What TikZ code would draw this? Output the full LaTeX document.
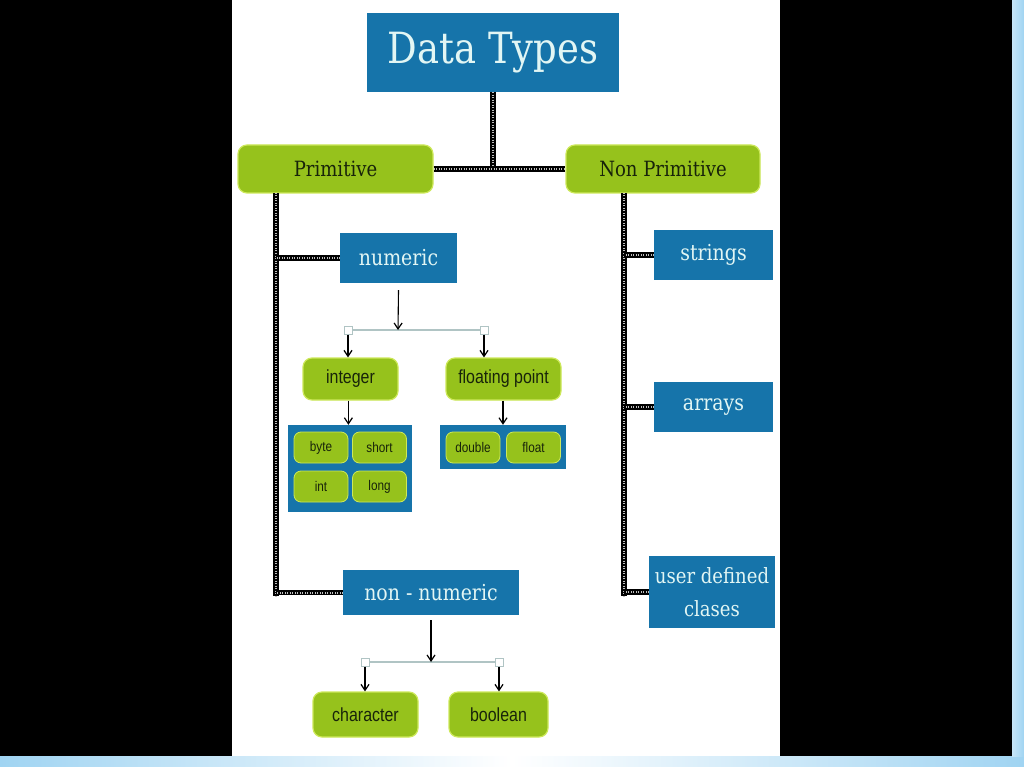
\documentclass[tikz,border=0pt]{standalone}
\usepackage{fontspec}
\usetikzlibrary{arrows.meta}
\newfontfamily\slabfont[FakeStretch=0.86]{DejaVu Serif}
\newfontfamily\narrowfont[FakeStretch=0.84]{Liberation Sans}
\definecolor{boxblue}{RGB}{22,116,170}
\definecolor{boxgreen}{RGB}{150,194,28}
\definecolor{greenedge}{RGB}{205,232,90}
\definecolor{lighttext}{RGB}{226,246,244}
\definecolor{darktext}{RGB}{24,36,10}
\definecolor{framblue}{RGB}{160,212,242}
\definecolor{splitgray}{RGB}{176,196,196}
\tikzset{
  bluebox/.style={draw=none, fill=boxblue, text=lighttext, inner sep=0pt, font=\slabfont},
  greenbox/.style={draw=greenedge, line width=1.2pt, fill=boxgreen, text=darktext, rounded corners=9pt, inner sep=0pt},
  smallgreen/.style={draw=greenedge, line width=0.8pt, fill=boxgreen, text=darktext, rounded corners=7pt, inner sep=0pt, minimum width=54pt, minimum height=31pt, font=\narrowfont\fontsize{14}{16}\selectfont},
  trackbase/.style={line width=5.5pt, black},
  tracktop/.style={line width=2pt, black!25, dash pattern=on 0.7pt off 1.8pt},
  arr/.style={-{Straight Barb[length=6pt,width=8pt,line width=1.2pt]}, line width=1.1pt, black},
  splitline/.style={line width=1.2pt, splitgray},
  sq/.style={draw=splitgray, fill=white, line width=1pt, minimum size=8pt, inner sep=0pt}
}
\newcommand{\track}[2]{\draw[trackbase] #1 -- #2; \draw[tracktop] #1 -- #2;}
\begin{document}
\begin{tikzpicture}[x=1pt,y=-1pt]
\useasboundingbox (0,0) rectangle (1024,767);
% background
\fill[white] (0,0) rectangle (1024,767);
\fill[black] (0,0) rectangle (232,756);
\fill[black] (780,0) rectangle (1012,756);
\shade[left color=framblue, right color=framblue, middle color=white] (0,756) rectangle (1024,767);
\shade[left color=white!40!framblue, right color=framblue] (1012,0) rectangle (1024,756);

% main nodes
\node[bluebox, minimum width=252pt, minimum height=79pt, font=\slabfont\fontsize{43}{46}\selectfont] (dt) at (493,52.5) {Data Types};
\node[greenbox, minimum width=195pt, minimum height=48pt, font=\slabfont\fontsize{21}{24}\selectfont] (prim) at (335.5,169) {Primitive};
\node[greenbox, minimum width=194pt, minimum height=48pt, font=\slabfont\fontsize{21}{24}\selectfont] (np) at (663,169) {Non Primitive};

% primitive side
\node[bluebox, minimum width=117pt, minimum height=50pt, font=\slabfont\fontsize{22}{26}\selectfont] (num) at (398.5,258) {numeric};
\node[bluebox, minimum width=176pt, minimum height=45pt, font=\slabfont\fontsize{22}{26}\selectfont] (nonnum) at (431,592.5) {non - numeric};

\coordinate (numsplit) at (398,330);
\node[sq] (sq1) at (348,330) {};
\node[sq] (sq2) at (484,330) {};
\node[greenbox, minimum width=95pt, minimum height=42pt, font=\narrowfont\fontsize{19}{21}\selectfont] (int) at (350.5,379) {integer};
\node[greenbox, minimum width=115pt, minimum height=42pt, font=\narrowfont\fontsize{19}{21}\selectfont] (fp) at (503.5,379) {floating point};

\node[fill=boxblue, minimum width=124pt, minimum height=87pt, inner sep=0pt] (intgrp) at (350,468.5) {};
\node[fill=boxblue, minimum width=126pt, minimum height=44pt, inner sep=0pt] (fpgrp) at (503,447) {};
\node[smallgreen] (byte) at (321,447.5) {byte};
\node[smallgreen] (short) at (379.5,447.5) {short};
\node[smallgreen] (intb) at (321,486.5) {int};
\node[smallgreen] (long) at (379.5,486.5) {long};
\node[smallgreen] (double) at (473,447.5) {double};
\node[smallgreen] (float) at (533.5,447.5) {float};

\coordinate (nnsplit) at (431,662);
\node[sq] (sq3) at (365,662) {};
\node[sq] (sq4) at (499,662) {};
\node[greenbox, minimum width=105pt, minimum height=45pt, font=\narrowfont\fontsize{19}{21}\selectfont] (char) at (365.5,714.5) {character};
\node[greenbox, minimum width=99pt, minimum height=45pt, font=\narrowfont\fontsize{19}{21}\selectfont] (bool) at (498.5,714.5) {boolean};

% non primitive side
\node[bluebox, minimum width=119pt, minimum height=50pt, font=\slabfont\fontsize{22}{26}\selectfont] (str) at (713.5,255) {strings};
\node[bluebox, minimum width=119pt, minimum height=50pt, font=\slabfont\fontsize{22}{26}\selectfont] (arr) at (713.5,407) {arrays};
\node[bluebox, minimum width=126pt, minimum height=72pt, align=center, font=\slabfont\fontsize{21}{33}\selectfont] (udc) at (712,592) {user defined\\clases};

% trunk coordinates
\coordinate (ptop) at (276,193);
\coordinate (pbot) at (276,596);
\coordinate (ntop) at (624,193);
\coordinate (nbot) at (624,596);

% track connectors
\coordinate (dtjoin) at (dt.south |- prim.east);
\track{(dt.south)}{(dtjoin)}
\track{(prim.east)}{(np.west)}
\track{(ptop)}{(pbot)}
\track{(ntop)}{(nbot)}
\track{(num.west)}{(num.west -| ptop)}
\track{(nonnum.west)}{(nonnum.west -| ptop)}
\track{(str.west)}{(str.west -| ntop)}
\track{(arr.west)}{(arr.west -| ntop)}
\track{(udc.west)}{(udc.west -| ntop)}

% split connectors
\draw[splitline] (sq1) -- (sq2);
\draw[arr] (num.south) ++(0,7) -- (numsplit);
\draw[arr] (sq1.south) -- (int.north -| sq1);
\draw[arr] (sq2.south) -- (fp.north -| sq2);
\draw[arr] (int.south -| byte.east) -- (intgrp.north -| byte.east);
\draw[arr] (fp.south -| fpgrp.north) -- (fpgrp.north);

\draw[splitline] (sq3) -- (sq4);
\draw[arr] (nonnum.south) ++(0,5) -- (nnsplit);
\draw[arr] (sq3.south) -- (char.north -| sq3);
\draw[arr] (sq4.south) -- (bool.north -| sq4);
\end{tikzpicture}
\end{document}
